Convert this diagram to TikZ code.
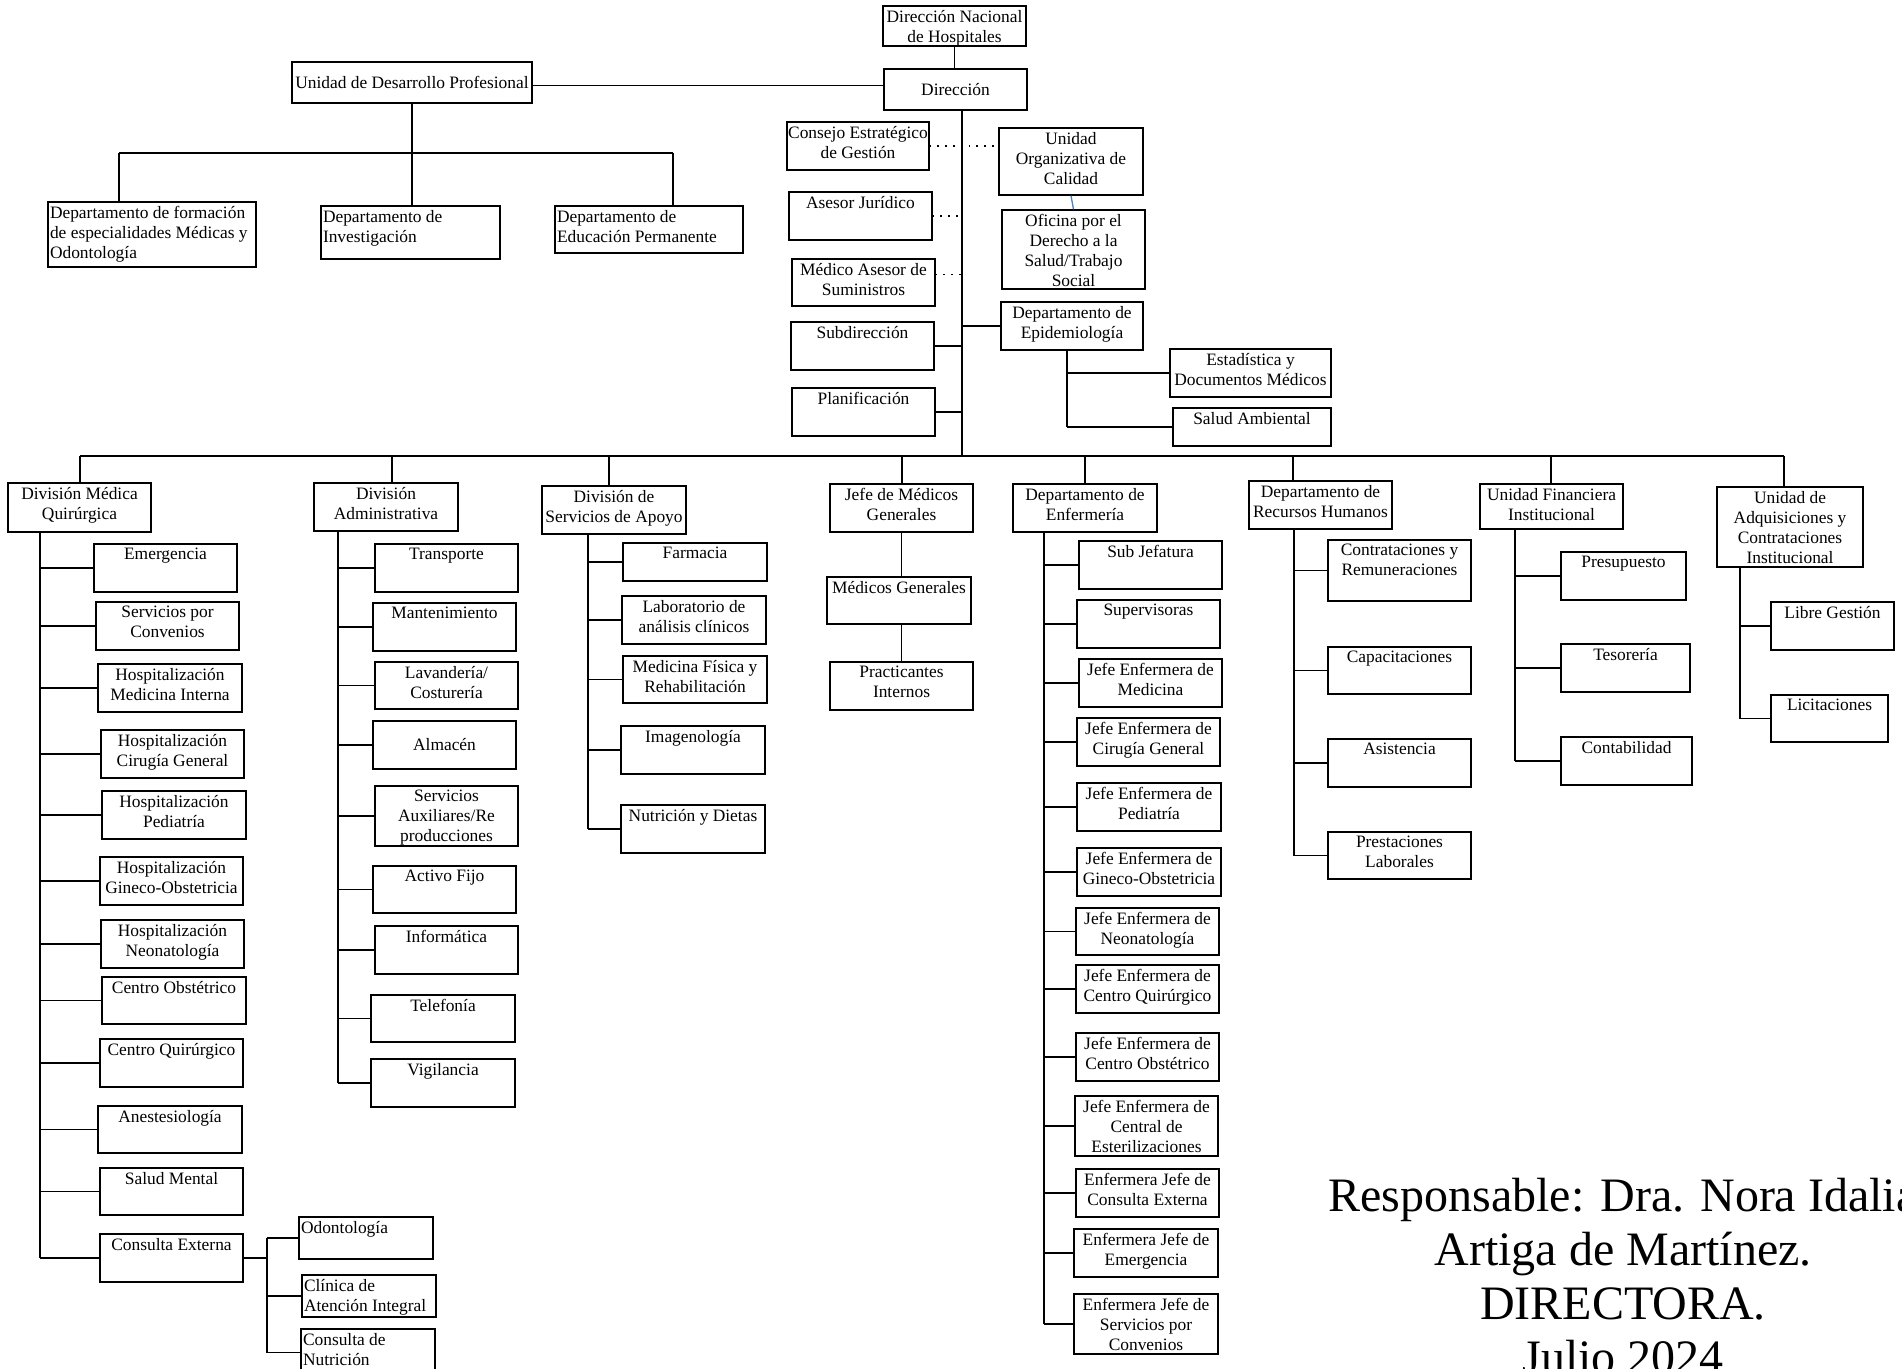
\documentclass[tikz,border=0pt]{standalone}
\usepackage{fontspec}
\setmainfont{Liberation Serif}
\newcommand\fs{\fontsize{8.7}{10}\selectfont}
\tikzset{
 box/.style={draw, line width=0.65pt, inner sep=0pt},
 txt/.style={inner xsep=1pt, inner ysep=2pt, font=\fs},
 tpos/.style={anchor=north, align=center, at={(#1.north)}},
 cpos/.style={anchor=center, align=center, at={(#1.center)}},
 lpos/.style={anchor=north west, align=left, at={(#1.north west)}},
 dots/.style={line width=0.9pt, dash pattern=on 0.9pt off 3pt},
 blueln/.style={draw={rgb,255:red,79;green,129;blue,189}},
}
\newcommand\bx[7][tpos]{%
 \pgfmathsetmacro\bw{(#5-#3)*0.5}%
 \pgfmathsetmacro\bh{(#6-#4)*0.5}%
 \node[box, minimum width=\bw pt, minimum height=\bh pt] (#2) at ({(#3+#5)/2},{(#4+#6)/2}) {};%
 \node[txt, #1=#2] (#2-t) {#7};%
}
\begin{document}
\begin{tikzpicture}[x=0.5pt, y=-0.5pt, line width=0.65pt]
\path[fill=white, use as bounding box] (0,0) rectangle (1902,1369);

% ---- top ----
\bx{dn}{883}{6}{1026}{46}{Dirección Nacional\\de Hospitales}
\bx[cpos]{dir}{884}{69}{1027}{110}{Dirección}
\bx{cons}{787}{122}{929}{170}{Consejo Estratégico\\de Gestión}
\bx{aj}{789}{192}{932}{240}{Asesor Jurídico}
\bx{mas}{792}{259}{935}{306}{Médico Asesor de\\Suministros}
\bx{sub}{791}{322}{934}{370}{Subdirección}
\bx{plan}{792}{388}{935}{436}{Planificación}
\bx{uoc}{999}{128}{1143}{195}{Unidad\\Organizativa de\\Calidad}
\bx{ofi}{1002}{210}{1145}{289}{Oficina por el\\Derecho a la\\Salud/Trabajo\\Social}
\bx{epi}{1001}{302}{1143}{350}{Departamento de\\Epidemiología}
\bx{est}{1170}{349}{1331}{397}{Estadística y\\Documentos Médicos}
\bx{sam}{1173}{408}{1331}{446}{Salud Ambiental}

\bx[cpos]{udp}{292}{62}{532}{103}{Unidad de Desarrollo Profesional}
\bx[lpos]{form}{48}{202}{256}{267}{Departamento de formación\\de especialidades Médicas y\\Odontología}
\bx[lpos]{inv}{321}{206}{500}{259}{Departamento de\\Investigación}
\bx[lpos]{edu}{555}{206}{743}{253}{Departamento de\\Educación Permanente}

% ---- divisions ----
\bx{dmq}{8}{483}{151}{532}{División Médica\\Quirúrgica}
\bx{da}{314}{483}{458}{531}{División\\Administrativa}
\bx{dsa}{542}{486}{686}{534}{División de\\Servicios de Apoyo}
\bx{jmg}{830}{484}{973}{532}{Jefe de Médicos\\Generales}
\bx{de}{1013}{484}{1157}{532}{Departamento de\\Enfermería}
\bx{rh}{1249}{481}{1392}{529}{Departamento de\\Recursos Humanos}
\bx{ufi}{1480}{484}{1623}{529}{Unidad Financiera\\Institucional}
\bx{uac}{1717}{487}{1863}{567}{Unidad de\\Adquisiciones y\\Contrataciones\\Institucional}

% ---- DMQ children ----
\bx{emer}{94}{544}{237}{592}{Emergencia}
\bx{spc}{96}{602}{239}{650}{Servicios por\\Convenios}
\bx{hmi}{98}{664}{242}{712}{Hospitalización\\Medicina Interna}
\bx{hcg}{101}{730}{244}{778}{Hospitalización\\Cirugía General}
\bx{hped}{102}{791}{246}{839}{Hospitalización\\Pediatría}
\bx{hgo}{100}{857}{243}{905}{Hospitalización\\Gineco-Obstetricia}
\bx{hneo}{101}{920}{244}{968}{Hospitalización\\Neonatología}
\bx{cobs}{102}{977}{246}{1024}{Centro Obstétrico}
\bx{cqui}{100}{1039}{243}{1087}{Centro Quirúrgico}
\bx{anes}{98}{1106}{242}{1153}{Anestesiología}
\bx{smen}{100}{1168}{243}{1215}{Salud Mental}
\bx{cext}{100}{1234}{243}{1282}{Consulta Externa}
\bx[lpos]{odon}{299}{1217}{433}{1259}{Odontología}
\bx[lpos]{clin}{302}{1275}{436}{1317}{Clínica de\\Atención Integral}
\bx[lpos]{nutr}{301}{1329}{435}{1376}{Consulta de\\Nutrición}

% ---- DA children ----
\bx{tra}{375}{544}{518}{592}{Transporte}
\bx{man}{373}{603}{516}{651}{Mantenimiento}
\bx{lav}{375}{662}{518}{709}{Lavandería/\\Costurería}
\bx[cpos]{alm}{373}{721}{516}{769}{Almacén}
\bx{sax}{375}{786}{518}{846}{Servicios\\Auxiliares/Re\\producciones}
\bx{afi}{373}{866}{516}{913}{Activo Fijo}
\bx{inf}{375}{926}{518}{974}{Informática}
\bx{tel}{371}{995}{515}{1042}{Telefonía}
\bx{vig}{371}{1059}{515}{1107}{Vigilancia}

% ---- DSA children ----
\bx{far}{623}{543}{767}{581}{Farmacia}
\bx{lab}{622}{596}{766}{644}{Laboratorio de\\análisis clínicos}
\bx{mfr}{623}{656}{767}{703}{Medicina Física y\\Rehabilitación}
\bx{ima}{621}{726}{765}{774}{Imagenología}
\bx{nyd}{621}{805}{765}{853}{Nutrición y Dietas}

% ---- JMG ----
\bx{mg}{827}{577}{971}{624}{Médicos Generales}
\bx{pi}{830}{662}{973}{710}{Practicantes\\Internos}

% ---- DE children ----
\bx{sj}{1079}{541}{1222}{589}{Sub Jefatura}
\bx{sup}{1077}{600}{1220}{648}{Supervisoras}
\bx{jmed}{1079}{659}{1222}{707}{Jefe Enfermera de\\Medicina}
\bx{jcg}{1077}{718}{1220}{766}{Jefe Enfermera de\\Cirugía General}
\bx{jped}{1077}{783}{1221}{831}{Jefe Enfermera de\\Pediatría}
\bx{jgo}{1077}{848}{1221}{896}{Jefe Enfermera de\\Gineco-Obstetricia}
\bx{jneo}{1076}{908}{1219}{955}{Jefe Enfermera de\\Neonatología}
\bx{jcq}{1076}{965}{1219}{1013}{Jefe Enfermera de\\Centro Quirúrgico}
\bx{jco}{1076}{1033}{1219}{1081}{Jefe Enfermera de\\Centro Obstétrico}
\bx{jce}{1075}{1096}{1218}{1156}{Jefe Enfermera de\\Central de\\Esterilizaciones}
\bx{ecx}{1076}{1169}{1219}{1217}{Enfermera Jefe de\\Consulta Externa}
\bx{eem}{1074}{1229}{1218}{1277}{Enfermera Jefe de\\Emergencia}
\bx{esc}{1074}{1294}{1218}{1354}{Enfermera Jefe de\\Servicios por\\Convenios}

% ---- RH children ----
\bx{cyr}{1328}{540}{1471}{601}{Contrataciones y\\Remuneraciones}
\bx{cap}{1328}{647}{1471}{694}{Capacitaciones}
\bx{asi}{1328}{739}{1471}{787}{Asistencia}
\bx{pla}{1328}{832}{1471}{879}{Prestaciones\\Laborales}

% ---- UFI ----
\bx{pre}{1561}{552}{1686}{600}{Presupuesto}
\bx{tes}{1561}{644}{1690}{692}{Tesorería}
\bx{con}{1561}{737}{1692}{785}{Contabilidad}

% ---- UAC ----
\bx{lg}{1771}{602}{1894}{650}{Libre Gestión}
\bx{lic}{1771}{695}{1888}{742}{Licitaciones}

% ---- connectors top ----
\coordinate (mt) at (962,456);
\draw (dn.south) -- (dn.south |- dir.north);
\draw (mt |- dir.south) -- (mt);
\coordinate (udpe) at ([yshift=-1.5pt]udp.east);
\draw (udpe) -- (udpe -| dir.west);
\draw[dots] (cons.east) -- (cons.east -| uoc.west);
\draw[dots] (aj.east) -- (aj.east -| mt);
\coordinate (masd) at ([yshift=4pt]mas.east);
\draw[dots] (masd) -- (masd -| mt);
\draw (sub.east) -- (sub.east -| mt);
\draw (plan.east) -- (plan.east -| mt);
\draw (epi.west) -- (epi.west -| mt);
\draw[blueln] (uoc.south) -- (ofi.north);
\coordinate (tepi) at (1067,0);
\draw (tepi |- epi.south) -- (tepi |- sam.west);
\foreach \c in {est,sam} \draw (tepi |- \c.west) -- (\c.west);

% UDP tree
\coordinate (ub1) at (119,153);
\coordinate (ub3) at (673,153);
\draw (ub1) -- (ub3);
\draw (udp.south) -- (udp.south |- inv.north);
\draw (ub1) -- (ub1 |- form.north);
\draw (ub3) -- (ub3 |- edu.north);

% ---- bus ----
\coordinate (b1) at (80,456);
\coordinate (b2) at (392,456);
\coordinate (b3) at (609,456);
\coordinate (b4) at (902,456);
\coordinate (b5) at (1085,456);
\coordinate (b6) at (1293,456);
\coordinate (b7) at (1551,456);
\coordinate (b8) at (1784,456);
\draw (b1) -- (b8);
\foreach \b/\n in {b1/dmq,b2/da,b3/dsa,b4/jmg,b5/de,b6/rh,b7/ufi,b8/uac}
  \draw (\b) -- (\b |- \n.north);

% ---- trunks ----
\coordinate (tdmq) at (40,0);
\draw (tdmq |- dmq.south) -- (tdmq |- cext.west);
\foreach \c in {emer,spc,hmi,hcg,hped,hgo,hneo,cobs,cqui,anes,smen,cext}
  \draw (tdmq |- \c.west) -- (\c.west);
\coordinate (tce) at (267,0);
\draw (cext.east) -- (cext.east -| tce);
\draw (tce |- odon.west) -- (tce |- nutr.west);
\foreach \c in {odon,clin,nutr} \draw (tce |- \c.west) -- (\c.west);

\coordinate (tda) at (338,0);
\draw (tda |- da.south) -- (tda |- vig.west);
\foreach \c in {tra,man,lav,alm,sax,afi,inf,tel,vig}
  \draw (tda |- \c.west) -- (\c.west);

\coordinate (tdsa) at (588,0);
\draw (tdsa |- dsa.south) -- (tdsa |- nyd.west);
\foreach \c in {far,lab,mfr,ima,nyd}
  \draw (tdsa |- \c.west) -- (\c.west);

\draw (jmg.south) -- (jmg.south |- mg.north);
\draw (mg.south -| jmg.south) -- (jmg.south |- pi.north);

\coordinate (tde) at (1044,0);
\draw (tde |- de.south) -- (tde |- esc.west);
\foreach \c in {sj,sup,jmed,jcg,jped,jgo,jneo,jcq,jco,jce,ecx,eem,esc}
  \draw (tde |- \c.west) -- (\c.west);

\coordinate (trh) at (1294,0);
\draw (trh |- rh.south) -- (trh |- pla.west);
\foreach \c in {cyr,cap,asi,pla}
  \draw (trh |- \c.west) -- (\c.west);

\coordinate (tufi) at (1515,0);
\draw (tufi |- ufi.south) -- (tufi |- con.west);
\foreach \c in {pre,tes,con}
  \draw (tufi |- \c.west) -- (\c.west);

\coordinate (tuac) at (1740,0);
\draw (tuac |- uac.south) -- (tuac |- lic.west);
\foreach \c in {lg,lic}
  \draw (tuac |- \c.west) -- (\c.west);

% ---- signature ----
\node[font=\fontsize{24}{27}\selectfont, align=center, anchor=north, inner sep=0pt] (resp) at (1623,1178)
  {Responsable: Dra. Nora Idalia\\Artiga de Martínez.\\DIRECTORA.\\Julio 2024};
\end{tikzpicture}
\end{document}
